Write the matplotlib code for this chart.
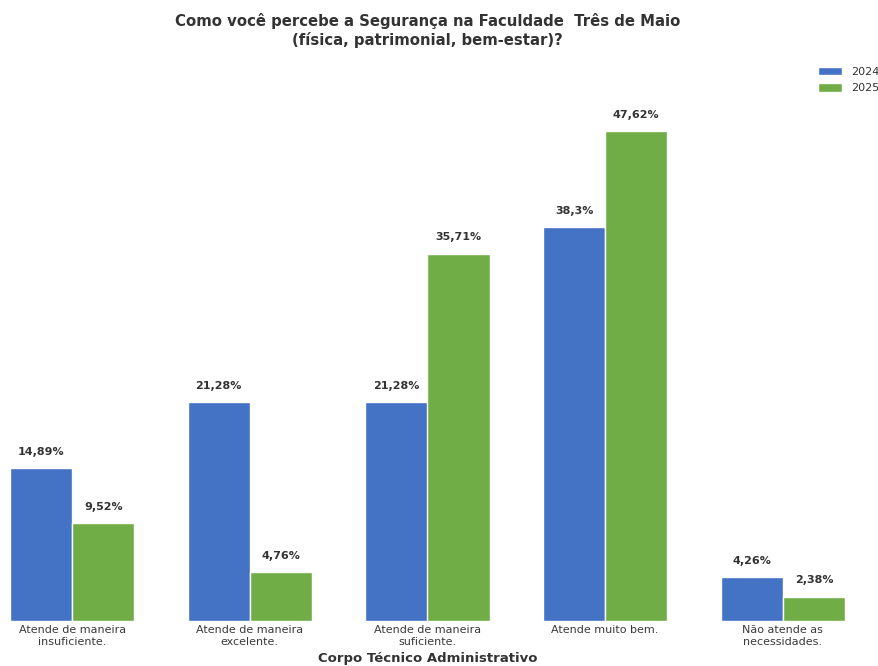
import numpy as np
import matplotlib.pyplot as plt

categorias = ['Atende de maneira\ninsuficiente.', 'Atende de maneira\nexcelente.',
              'Atende de maneira\nsuficiente.', 'Atende muito bem.',
              'Não atende as\nnecessidades.']
valores_2024 = [14.89, 21.28, 21.28, 38.3, 4.26]
valores_2025 = [9.52, 4.76, 35.71, 47.62, 2.38]
rotulos_2024 = ['14,89%', '21,28%', '21,28%', '38,3%', '4,26%']
rotulos_2025 = ['9,52%', '4,76%', '35,71%', '47,62%', '2,38%']

cor_2024 = '#4472C4'
cor_2025 = '#70AD47'
cor_texto = '#333333'

fig = plt.figure(figsize=(8.79, 6.66), dpi=100)
ax = fig.add_axes([10 / 879, 1 - 621 / 666, 835 / 879, 566 / 666])

x = np.arange(len(categorias))
largura = 0.35

b1 = ax.bar(x - largura / 2, valores_2024, largura, color=cor_2024,
            edgecolor='white', linewidth=1, label='2024')
b2 = ax.bar(x + largura / 2, valores_2025, largura, color=cor_2025,
            edgecolor='white', linewidth=1, label='2025')

# Rótulos de valor sobre as barras
for barras, rotulos in [(b1, rotulos_2024), (b2, rotulos_2025)]:
    for barra, rot in zip(barras, rotulos):
        ax.annotate(rot, (barra.get_x() + barra.get_width() / 2, barra.get_height()),
                    xytext=(0, 8), textcoords='offset points', ha='center',
                    va='bottom', fontsize=8, weight='bold', color=cor_texto)

ax.set_xlim(-0.35, 4.35)
ax.set_ylim(0, 55)
ax.set_xticks(x)
ax.set_xticklabels(categorias, fontsize=8, color='#3a3a3a', linespacing=1.2)
ax.tick_params(axis='x', length=0, pad=3)
ax.set_yticks([])
for s in ax.spines.values():
    s.set_visible(False)

ax.set_xlabel('Corpo Técnico Administrativo', fontsize=9.5, weight='bold',
              color=cor_texto, labelpad=4)
ax.set_title('Como você percebe a Segurança na Faculdade  Três de Maio\n'
             '(física, patrimonial, bem-estar)?', fontsize=10.7, weight='bold',
             color=cor_texto, pad=7, linespacing=1.25)

fig.legend(handles=[b1, b2], loc='upper right', bbox_to_anchor=(1.012, 0.915),
           frameon=False, fontsize=8, handlelength=2.2, handleheight=0.8,
           labelspacing=0.6, labelcolor=cor_texto)

plt.savefig('out.png', dpi=100)
